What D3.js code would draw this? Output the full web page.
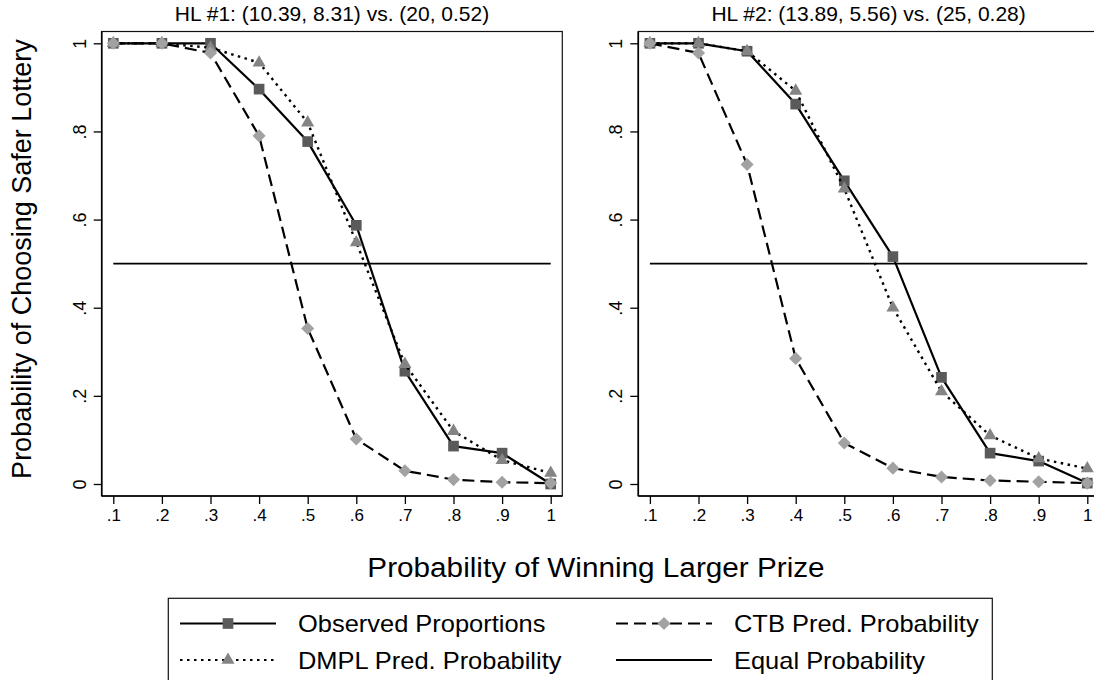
<!DOCTYPE html>
<html>
<head>
<meta charset="utf-8">
<script src="https://cdn.jsdelivr.net/npm/d3@7"></script>
<style>
  body { margin: 0; background: #fff; }
  svg { display: block; font-family: "Liberation Sans", Arial, Helvetica, sans-serif; }
</style>
</head>
<body>
<svg id="chart" width="1094" height="680"></svg>
<script>
// probabilities of winning the larger prize (x)
const probs = [0.1, 0.2, 0.3, 0.4, 0.5, 0.6, 0.7, 0.8, 0.9, 1.0];

// HL #1 series
const hl1Observed = [1.0, 1.0, 1.0, 0.896, 0.777, 0.587, 0.256, 0.086, 0.070, 0.0];
const hl1Dmpl     = [1.0, 1.0, 0.99, 0.956, 0.820, 0.548, 0.272, 0.120, 0.054, 0.025];
const hl1Ctb      = [1.0, 1.0, 0.978, 0.790, 0.353, 0.102, 0.030, 0.010, 0.004, 0.002];

// HL #2 series
const hl2Observed = [1.0, 1.0, 0.982, 0.862, 0.688, 0.516, 0.242, 0.070, 0.052, 0.002];
const hl2Dmpl     = [1.0, 1.0, 0.982, 0.892, 0.670, 0.400, 0.210, 0.110, 0.058, 0.035];
const hl2Ctb      = [1.0, 0.978, 0.725, 0.285, 0.093, 0.036, 0.016, 0.008, 0.005, 0.002];

const equalLevel = 0.5;

const panelTitles = ["HL #1: (10.39, 8.31) vs. (20, 0.52)", "HL #2: (13.89, 5.56) vs. (25, 0.28)"];
const xTickValues = [0.1, 0.2, 0.3, 0.4, 0.5, 0.6, 0.7, 0.8, 0.9, 1.0];
const xTickLabels = [".1", ".2", ".3", ".4", ".5", ".6", ".7", ".8", ".9", "1"];
const yTickValues = [0, 0.2, 0.4, 0.6, 0.8, 1.0];
const yTickLabels = ["0", ".2", ".4", ".6", ".8", "1"];

const seriesNames = ["Observed Proportions", "DMPL Pred. Probability", "CTB Pred. Probability", "Equal Probability"];

const panels = [
  {title: panelTitles[0], observed: hl1Observed, dmpl: hl1Dmpl, ctb: hl1Ctb, left: 101.7},
  {title: panelTitles[1], observed: hl2Observed, dmpl: hl2Dmpl, ctb: hl2Ctb, left: 638.3}
];

// styles per series
const styles = {
  observed: {dash: null, width: 2.2, fill: "#5a5a5a", symbol: "square"},
  dmpl:     {dash: "2.5,4.5", width: 2.4, fill: "#848484", symbol: "triangle"},
  ctb:      {dash: "12,6", width: 2.2, fill: "#a2a2a2", symbol: "diamond"}
};

const svg = d3.select("#chart");

const boxW = 460.6, boxTop = 31.5, boxBottom = 496;
const padX = 11.6;
const y = d3.scaleLinear().domain([0, 1]).range([484, 43.3]);

function markerPath(kind) {
  if (kind === "square") return d3.symbol().type(d3.symbolSquare).size(114)();
  if (kind === "triangle") return d3.symbol().type(d3.symbolTriangle).size(74)();
  return d3.symbol().type(d3.symbolSquare).size(86)(); // rotated later -> diamond
}

function drawSeries(g, x, values, st) {
  const line = d3.line().x((d, i) => x(probs[i])).y(d => y(d));
  g.append("path")
    .attr("d", line(values))
    .attr("fill", "none")
    .attr("stroke", "#000")
    .attr("stroke-width", st.width)
    .attr("stroke-dasharray", st.dash)
    .attr("stroke-linejoin", "round");
  g.selectAll(null).data(values).enter().append("path")
    .attr("d", markerPath(st.symbol))
    .attr("transform", (d, i) => "translate(" + x(probs[i]) + "," + y(d) + ")" + (st.symbol === "diamond" ? " rotate(45)" : ""))
    .attr("fill", st.fill);
}

// stretch text horizontally a bit, the reference type runs wide
function widen(sel, k) {
  sel.each(function() {
    const len = this.getComputedTextLength();
    d3.select(this).attr("textLength", len * k).attr("lengthAdjust", "spacingAndGlyphs");
  });
}

panels.forEach(p => {
  const x = d3.scaleLinear().domain([0.1, 1]).range([p.left + padX, p.left + boxW - padX]);
  const g = svg.append("g");

  // box outline (top / right)
  g.append("rect")
    .attr("x", p.left).attr("y", boxTop)
    .attr("width", boxW).attr("height", boxBottom - boxTop)
    .attr("fill", "none").attr("stroke", "#111").attr("stroke-width", 1.2);

  // equal probability line
  g.append("line")
    .attr("x1", x(0.1)).attr("x2", x(1))
    .attr("y1", y(equalLevel)).attr("y2", y(equalLevel))
    .attr("stroke", "#000").attr("stroke-width", 1.6);

  drawSeries(g, x, p.observed, styles.observed);
  drawSeries(g, x, p.dmpl, styles.dmpl);
  drawSeries(g, x, p.ctb, styles.ctb);

  // y axis
  const ya = g.append("g")
    .attr("transform", "translate(" + p.left + ",0)")
    .call(d3.axisLeft(y).tickValues(yTickValues).tickSize(8).tickSizeOuter(0)
      .tickFormat((d, i) => yTickLabels[i]));
  ya.select(".domain").attr("d", "M0," + boxTop + "V" + boxBottom).attr("stroke-width", 1.6);
  ya.selectAll(".tick line").attr("stroke-width", 1.3);
  ya.selectAll(".tick text")
    .attr("x", null).attr("dy", null)
    .attr("transform", "translate(-16,0) rotate(-90)")
    .attr("text-anchor", "middle")
    .attr("font-size", 18)
    .attr("font-family", null)
    .attr("fill", "#000");

  // x axis
  const xa = g.append("g")
    .attr("transform", "translate(0," + boxBottom + ")")
    .call(d3.axisBottom(x).tickValues(xTickValues).tickSize(8).tickSizeOuter(0)
      .tickFormat((d, i) => xTickLabels[i]));
  xa.select(".domain").attr("d", "M" + p.left + ",0H" + (p.left + boxW)).attr("stroke-width", 1.6);
  xa.selectAll(".tick line").attr("stroke-width", 1.3);
  xa.selectAll(".tick text")
    .attr("y", 25).attr("dy", null)
    .attr("font-size", 17)
    .attr("font-family", null)
    .attr("fill", "#000");

  // panel title
  svg.append("text")
    .attr("x", p.left + boxW / 2).attr("y", 21)
    .attr("text-anchor", "middle")
    .attr("font-size", 21)
    .text(p.title);
});

// axis titles
svg.append("text")
  .attr("transform", "translate(31,259) rotate(-90)")
  .attr("text-anchor", "middle")
  .attr("font-size", 27)
  .text("Probability of Choosing Safer Lottery");

svg.append("text")
  .attr("x", 596).attr("y", 577)
  .attr("text-anchor", "middle")
  .attr("font-size", 27)
  .text("Probability of Winning Larger Prize")
  .call(widen, 1.1);

// legend
const lg = svg.append("g");
lg.append("rect")
  .attr("x", 168.3).attr("y", 598.3)
  .attr("width", 824).attr("height", 86)
  .attr("fill", "#fff").attr("stroke", "#111").attr("stroke-width", 1.2);

const legendItems = [
  {name: seriesNames[0], st: styles.observed, col: 0, row: 0},
  {name: seriesNames[1], st: styles.dmpl, col: 0, row: 1},
  {name: seriesNames[2], st: styles.ctb, col: 1, row: 0},
  {name: seriesNames[3], st: {dash: null, width: 1.8, fill: null, symbol: null}, col: 1, row: 1}
];
const colX = [180, 616];
const rowY = [623.5, 660];

legendItems.forEach(it => {
  const x0 = colX[it.col], cy = rowY[it.row];
  lg.append("line")
    .attr("x1", x0).attr("x2", x0 + 96)
    .attr("y1", cy).attr("y2", cy)
    .attr("stroke", "#000")
    .attr("stroke-width", it.st.symbol ? it.st.width * 0.85 : it.st.width)
    .attr("stroke-dasharray", it.st.dash);
  if (it.st.symbol) {
    lg.append("path")
      .attr("d", markerPath(it.st.symbol))
      .attr("transform", "translate(" + (x0 + 48) + "," + cy + ")" + (it.st.symbol === "diamond" ? " rotate(45)" : ""))
      .attr("fill", it.st.fill);
  }
  lg.append("text")
    .attr("x", x0 + 118).attr("y", cy + 8.5)
    .attr("font-size", 24)
    .text(it.name)
    .call(widen, 1.06);
});
</script>
</body>
</html>
